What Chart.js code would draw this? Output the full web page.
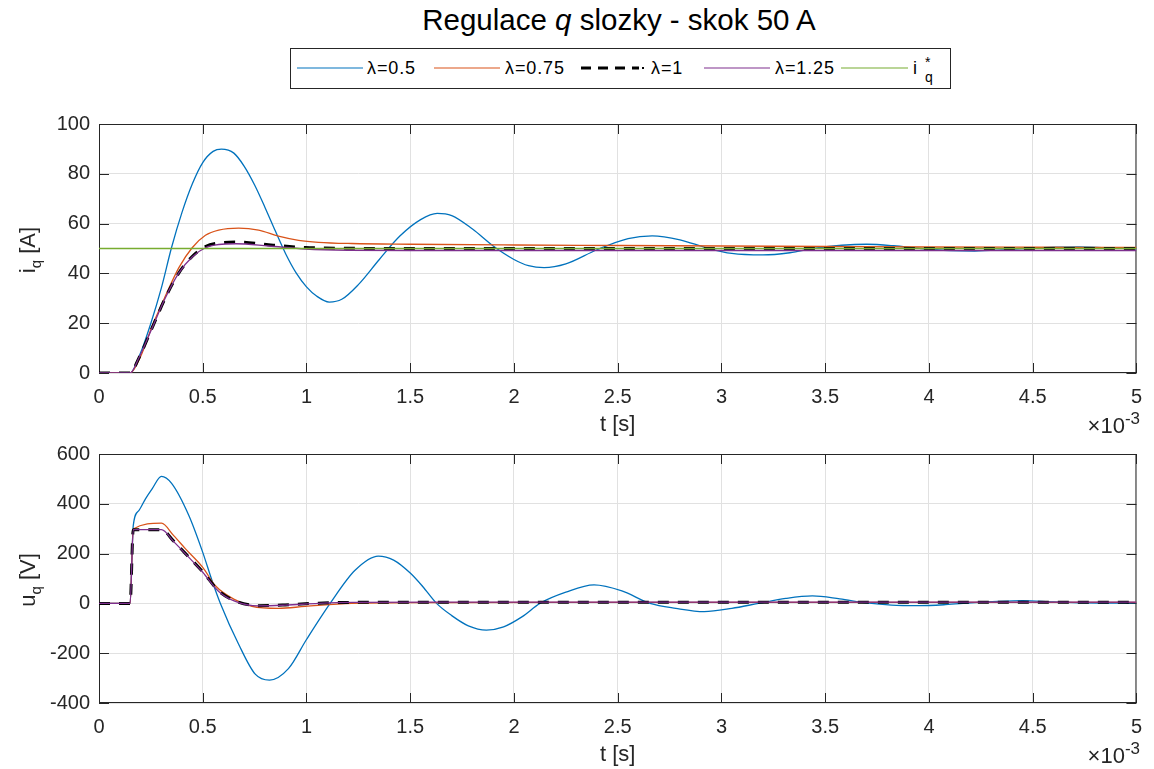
<!DOCTYPE html>
<html>
<head>
<meta charset="utf-8">
<script src="https://cdn.jsdelivr.net/npm/chart.js@4.4.1/dist/chart.umd.min.js"></script>
<style>
  body { margin: 0; width: 1154px; height: 769px; background: #fff; position: relative; overflow: hidden;
         font-family: "Liberation Sans", Arial, sans-serif; color: #262626; }
  canvas { position: absolute; left: 0; }
  .abs { position: absolute; white-space: nowrap; }
  #title { left: 0; width: 1238px; top: 3px; text-align: center; font-size: 29.5px; line-height: 34px; color: #000; }
  #legend { left: 290px; top: 48px; width: 659px; height: 39px; border: 1px solid #262626; background: #fff; }
  .lg { font-size: 18px; line-height: 20px; top: 58px; color: #000; letter-spacing: 0.9px; }
  .lgline { top: 65px; }
  .ylab { font-size: 22px; line-height: 26px; transform: translate(-50%, -50%) rotate(-90deg); color: #262626; }
  .exp { font-size: 22px; right: 14px; color: #262626; }
  .exp sup { font-size: 17px; vertical-align: 9px; line-height: 0; }
  sub.q { font-size: 15px; vertical-align: -6px; line-height: 0; }
</style>
</head>
<body>
<div id="title" class="abs">Regulace <i>q</i> slozky - skok 50 A</div>

<div id="legend" class="abs"></div>
<svg class="abs lgline" style="left:297px" width="66" height="6"><line x1="0" y1="3" x2="66" y2="3" stroke="#0072BD" stroke-width="1.2"/></svg>
<div class="abs lg" style="left:367px">λ=0.5</div>
<svg class="abs lgline" style="left:434px" width="66" height="6"><line x1="0" y1="3" x2="66" y2="3" stroke="#D95319" stroke-width="1.2"/></svg>
<div class="abs lg" style="left:505px">λ=0.75</div>
<svg class="abs lgline" style="left:581px" width="64" height="6"><line x1="0" y1="3" x2="58" y2="3" stroke="#000" stroke-width="3" stroke-dasharray="10 7"/><line x1="61" y1="3" x2="63" y2="3" stroke="#000" stroke-width="2"/></svg>
<div class="abs lg" style="left:651px">λ=1</div>
<svg class="abs lgline" style="left:704px" width="66" height="6"><line x1="0" y1="3" x2="66" y2="3" stroke="#7E2F8E" stroke-width="1.2"/></svg>
<div class="abs lg" style="left:775px">λ=1.25</div>
<svg class="abs lgline" style="left:841px" width="67" height="6"><line x1="0" y1="3" x2="67" y2="3" stroke="#77AC30" stroke-width="1.2"/></svg>
<div class="abs lg" style="left:913px; width:40px">i<span style="position:absolute; left:12px; top:9px; font-size:14px">q</span><span style="position:absolute; left:12px; top:-6px; font-size:14px">*</span></div>

<canvas id="iqChart" width="1154" height="341" style="top:103px"></canvas>
<canvas id="uqChart" width="1154" height="341" style="top:433px"></canvas>

<div class="abs ylab" style="left:28px; top:250px">i<sub class="q">q</sub> [A]</div>
<div class="abs ylab" style="left:28px; top:580px">u<sub class="q">q</sub> [V]</div>
<div class="abs exp" style="top:413px">×10<sup>-3</sup></div>
<div class="abs exp" style="top:743px">×10<sup>-3</sup></div>

<script>
// time axis in ms (shown as t [s] x 10^-3)
const xTickLabels = ['0', '0.5', '1', '1.5', '2', '2.5', '3', '3.5', '4', '4.5', '5'];
const iqTickLabels = ['0', '20', '40', '60', '80', '100'];
const uqTickLabels = ['-400', '-200', '0', '200', '400', '600'];

// i_q [A], lambda = 0.5
const tIq05 = [0, 0.15, 0.2, 0.25, 0.3, 0.35, 0.4, 0.45, 0.5, 0.55, 0.59, 0.65, 0.7, 0.75, 0.8, 0.85, 0.9, 0.95, 1.0, 1.05,
  1.11, 1.17, 1.25, 1.35, 1.45, 1.55, 1.63, 1.7, 1.8, 1.9, 2.0, 2.07, 2.145, 2.25, 2.4, 2.55, 2.666, 2.8, 2.93, 3.05,
  3.2, 3.33, 3.45, 3.58, 3.7, 3.83, 3.96, 4.1, 4.22, 4.35, 4.48, 4.6, 4.72, 4.85, 5.0];
const iq05 = [0, 0, 8, 20, 34, 50.5, 64.5, 76, 84.5, 89, 89.9, 88.3, 83, 75.5, 66.5, 57, 47.8, 40.2, 34.6, 30.8,
  28.5, 29.6, 35.5, 45.5, 55, 61.6, 64.1, 63.2, 57.8, 51, 45.6, 43.1, 42.3, 43.8, 49.5, 54, 55.1, 53.5, 50.2, 48,
  47.4, 48.3, 50.1, 51.3, 51.7, 51.1, 50, 49.2, 49, 49.4, 50.1, 50.5, 50.6, 50.3, 49.9];
// lambda = 0.75
const tIq075 = [0, 0.15, 0.2, 0.256, 0.32, 0.385, 0.449, 0.513, 0.577, 0.673, 0.769, 0.865, 0.962, 1.058, 1.218, 1.5, 2.0, 2.5, 3.0, 3.5, 4.0, 4.5, 5.0];
const iq075 = [0, 0, 6.5, 18.8, 30.9, 42.3, 50.3, 55.3, 57.4, 58.2, 57.4, 55.0, 53.3, 52.5, 52.0, 51.7, 51.4, 51.2, 51.0, 50.8, 50.6, 50.5, 50.4];
// lambda = 1
const tIq1 = [0, 0.15, 0.192, 0.256, 0.32, 0.385, 0.449, 0.513, 0.577, 0.68, 0.817, 0.994, 1.2, 1.5, 2, 3, 4, 5];
const iq1 = [0, 0, 6, 18.1, 30.2, 40.2, 46.8, 50.8, 52.2, 52.6, 51.5, 50.4, 50.1, 50.0, 50.0, 50.0, 50.0, 50.0];
// lambda = 1.25
const tIq125 = [0, 0.15, 0.192, 0.256, 0.32, 0.385, 0.449, 0.513, 0.577, 0.66, 0.817, 0.994, 1.2, 1.5, 2, 3, 4, 5];
const iq125 = [0, 0, 6, 18.1, 30.2, 40.2, 46.6, 50.3, 51.6, 51.9, 51.0, 49.8, 49.3, 49.2, 49.2, 49.2, 49.2, 49.2];
// reference i_q*
const tIqRef = [0, 5];
const iqRef = [50, 50];

// u_q [V], lambda = 0.5
const tUq05 = [0, 0.15, 0.165, 0.192, 0.224, 0.256, 0.301, 0.35, 0.433, 0.5, 0.545, 0.585, 0.673, 0.753, 0.822, 0.913,
  1.0, 1.114, 1.234, 1.346, 1.42, 1.5, 1.56, 1.627, 1.7, 1.78, 1.867, 1.95, 2.04, 2.125, 2.25, 2.386, 2.52, 2.656, 2.78,
  2.917, 3.05, 3.178, 3.31, 3.438, 3.57, 3.699, 3.82, 3.95, 4.08, 4.2, 4.33, 4.452, 4.6, 4.75, 4.9, 5.0];
const uq05 = [0, 0, 312, 373, 420, 460, 510, 482, 353, 205, 91, 0, -164, -284, -308, -262,
  -145, 0, 133, 190, 174, 122, 68, 0, -49, -90, -107, -94, -53, 0, 45, 74, 50, 0, -20,
  -33, -20, 0, 20, 30, 18, 2, -7, -9, -5, 2, 8, 11, 6, 2, 1, 3];
// lambda = 0.75
const tUq075 = [0, 0.15, 0.165, 0.301, 0.36, 0.417, 0.5, 0.561, 0.657, 0.737, 0.865, 0.994, 1.218, 1.6, 2.5, 3.5, 5.0];
const uq075 = [0, 0, 299, 322, 272, 219, 145, 71, 14, -12, -20, -12, 0, 3, 4, 4, 4];
// lambda = 1
const tUq1 = [0, 0.15, 0.165, 0.301, 0.36, 0.417, 0.5, 0.577, 0.657, 0.769, 0.897, 1.058, 1.218, 1.6, 2.5, 5.0];
const uq1 = [0, 0, 296, 296, 250, 200, 127, 50, 10, -9, -6, 1, 4, 5, 5, 5];
// lambda = 1.25
const tUq125 = [0, 0.15, 0.165, 0.301, 0.36, 0.417, 0.5, 0.577, 0.657, 0.769, 0.897, 1.058, 1.218, 1.6, 2.5, 5.0];
const uq125 = [0, 0, 296, 296, 248, 199, 125, 48, 8, -10, -7, 0, 4, 5, 5, 5];

const BLUE = '#0072BD', ORANGE = '#D95319', PURPLE = '#7E2F8E', GREEN = '#77AC30';
const AXIS = '#262626';
const FONT = '"Liberation Sans", Arial, sans-serif';

function pts(ts, vs) {
    return ts.map((t, i) => ({ x: t, y: vs[i] }));
}

function line(data, color, order, extra) {
    return Object.assign({
        data: data,
        borderColor: color,
        borderWidth: 1.3,
        pointRadius: 0,
        fill: false,
        cubicInterpolationMode: 'monotone',
        order: order
    }, extra || {});
}

// box round the axes with inner tick marks (MATLAB look)
const boxPlugin = {
    id: 'matlabBox',
    beforeDatasetsDraw(chart) {
        const { ctx, chartArea: a, scales: { x, y } } = chart;
        ctx.save();
        ctx.strokeStyle = AXIS;
        ctx.lineWidth = 1;
        ctx.strokeRect(a.left + 0.5, a.top + 0.5, a.right - a.left - 1, a.bottom - a.top - 1);
        ctx.beginPath();
        x.ticks.forEach(t => {
            const px = Math.round(x.getPixelForValue(t.value)) + 0.5;
            ctx.moveTo(px, a.bottom); ctx.lineTo(px, a.bottom - 10);
            ctx.moveTo(px, a.top); ctx.lineTo(px, a.top + 10);
        });
        y.ticks.forEach(t => {
            const py = Math.round(y.getPixelForValue(t.value)) + 0.5;
            ctx.moveTo(a.left, py); ctx.lineTo(a.left + 10, py);
            ctx.moveTo(a.right, py); ctx.lineTo(a.right - 10, py);
        });
        ctx.stroke();
        ctx.restore();
    }
};

function makeOptions(yMin, yMax, yStep, yLabels) {
    return {
        responsive: false,
        animation: false,
        layout: { padding: { left: 0, right: 15, top: 14, bottom: 0 } },
        plugins: { legend: { display: false }, tooltip: { enabled: false } },
        scales: {
            x: {
                type: 'linear',
                min: 0,
                max: 5,
                afterFit: s => { s.height = 71; },
                ticks: {
                    stepSize: 0.5,
                    autoSkip: false,
                    maxRotation: 0,
                    padding: 12,
                    color: AXIS,
                    font: { family: FONT, size: 20 },
                    callback: (v, i) => xTickLabels[i]
                },
                grid: { color: '#e1e1e1', drawTicks: false },
                border: { display: false },
                title: {
                    display: true,
                    text: 't [s]',
                    color: AXIS,
                    font: { family: FONT, size: 22 },
                    padding: { top: 0, bottom: 6 }
                }
            },
            y: {
                min: yMin,
                max: yMax,
                afterFit: s => { s.width = 99; },
                ticks: {
                    stepSize: yStep,
                    padding: 9,
                    color: AXIS,
                    font: { family: FONT, size: 20 },
                    callback: (v, i) => yLabels[i]
                },
                grid: { color: '#e1e1e1', drawTicks: false },
                border: { display: false }
            }
        }
    };
}

document.addEventListener('DOMContentLoaded', function() {
    const dashed = { borderColor: '#000', borderWidth: 3, borderDash: [11, 9] };

    try {
        new Chart(document.getElementById('iqChart').getContext('2d'), {
            type: 'line',
            data: {
                datasets: [
                    line(pts(tIq05, iq05), BLUE, 5),
                    line(pts(tIq075, iq075), ORANGE, 4),
                    line(pts(tIq1, iq1), '#000', 3, dashed),
                    line(pts(tIq125, iq125), PURPLE, 2),
                    line(pts(tIqRef, iqRef), GREEN, 1)
                ]
            },
            options: makeOptions(0, 100, 20, iqTickLabels),
            plugins: [boxPlugin]
        });

        new Chart(document.getElementById('uqChart').getContext('2d'), {
            type: 'line',
            data: {
                datasets: [
                    line(pts(tUq05, uq05), BLUE, 5),
                    line(pts(tUq075, uq075), ORANGE, 4),
                    line(pts(tUq1, uq1), '#000', 3, dashed),
                    line(pts(tUq125, uq125), PURPLE, 2)
                ]
            },
            options: makeOptions(-400, 600, 200, uqTickLabels),
            plugins: [boxPlugin]
        });
    } catch (error) {
        console.error('Chart initialization failed:', error);
    }
});
</script>
</body>
</html>
